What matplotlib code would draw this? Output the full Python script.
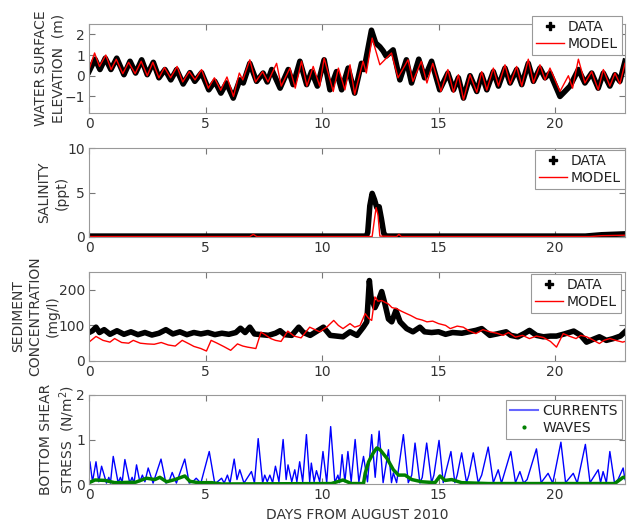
import numpy as np
import matplotlib
matplotlib.use("Agg")
import matplotlib.pyplot as plt
from matplotlib.lines import Line2D

plt.rcParams['font.family'] = ['DejaVu Sans']
plt.rcParams['font.size'] = 10

# water surface elevation (m): read at tidal peaks / troughs
wse_data_t = [0.0, 0.26, 0.47, 0.7, 0.94, 1.19, 1.5, 1.76, 2.0, 2.26, 2.5, 2.76, 3.0, 3.26, 3.51,
              3.76, 4.04, 4.33, 4.54, 4.83, 5.14, 5.4, 5.66, 5.9, 6.19, 6.47, 6.62, 6.9, 7.19, 7.47,
              7.65, 7.84, 8.2, 8.55, 8.76, 9.05, 9.34, 9.55, 9.8, 10.09, 10.34, 10.62, 10.84, 11.12,
              11.4, 11.69, 11.8, 12.12, 12.3, 12.48, 12.62, 12.75, 13.05, 13.34, 13.62, 13.84, 14.15,
              14.4, 14.7, 15.05, 15.4, 15.64, 15.85, 16.07, 16.35, 16.64, 16.85, 17.07, 17.35, 17.57,
              17.85, 18.07, 18.35, 18.57, 18.85, 19.07, 19.35, 19.57, 19.78, 20.21, 20.42, 20.64, 21.0,
              21.28, 21.57, 21.85, 22.07, 22.35, 22.57, 22.78, 23.0]
wse_data = [0.2, 0.8, 0.3, 0.85, 0.3, 0.85, 0.05, 0.7, 0.13, 0.77, 0.05, 0.65, -0.1, 0.3, -0.2,
            0.3, -0.4, 0.15, -0.27, 0.15, -0.68, -0.27, -0.84, -0.35, -1.08, -0.2, -0.35, 0.6, -0.27, 0.13,
            -0.3, 0.3, -0.6, 0.3, -0.43, 0.7, -0.43, 0.2, -0.5, 0.77, -0.68, 0.2, -0.68, 0.37,
            -0.84, 0.6, 0.3, 2.2, 1.58, 1.4, 1.2, 0.95, 1.25, -0.2, 0.77, -0.35, 0.8,
            -0.1, 0.7, -0.68, 0.13, -0.68, -0.1, -1.08, 0.0, -0.76, 0.05, -0.68, 0.2, -0.5,
            0.37, -0.35, 0.3, -0.43, 0.6, -0.27, 0.37, -0.1, 0.13, -1.0, -0.76, -0.5, 0.3,
            -0.35, 0.13, -0.6, 0.13, -0.5, 0.05, -0.27, 0.7]
wse_model_t = [0.0, 0.24, 0.45, 0.72, 0.95, 1.17, 1.45, 1.7, 1.98, 2.24, 2.5, 2.74, 3.0, 3.24, 3.5,
               3.78, 4.02, 4.3, 4.55, 4.83, 5.12, 5.38, 5.65, 5.92, 6.2, 6.45, 6.6, 6.9, 7.15, 7.45,
               7.68, 8.05, 8.25, 8.62, 8.85, 9.12, 9.35, 9.62, 9.9, 10.09, 10.48, 10.7, 10.98, 11.2,
               11.4, 11.76, 11.9, 12.15, 12.48, 12.98, 13.26, 13.69, 13.9, 14.26, 14.5, 14.75, 15.1,
               15.4, 15.64, 15.85, 16.07, 16.35, 16.64, 16.85, 17.07, 17.35, 17.57, 17.85, 18.07,
               18.35, 18.57, 18.85, 19.07, 19.35, 19.57, 19.78, 20.21, 20.57, 20.75, 21.0, 21.28,
               21.57, 21.85, 22.07, 22.35, 22.57, 22.78, 23.0]
wse_model = [0.3, 1.1, 0.45, 1.0, 0.3, 0.8, 0.1, 0.65, 0.1, 0.7, 0.0, 0.65, -0.1, 0.4, -0.1,
             0.45, -0.3, 0.2, -0.2, 0.3, -0.6, -0.1, -0.7, -0.06, -1.0, 0.13, -0.2, 0.77, -0.3, 0.2,
             -0.3, 0.6, -0.5, 0.37, -0.6, 0.7, -0.5, 0.45, -0.5, 0.85, -0.76, 0.37, -0.68, 0.53,
             -0.9, 0.7, 0.13, 1.82, 0.53, 1.1, -0.1, 0.77, -0.27, 0.7, -0.35, 0.6, -0.76,
             0.3, -0.8, 0.05, -1.16, 0.05, -0.8, 0.2, -0.7, 0.37, -0.5, 0.53, -0.4,
             0.45, -0.5, 0.8, -0.35, 0.53, -0.2, 0.37, -0.76, 0.0, -0.6, 0.8, -0.35,
             0.2, -0.68, 0.3, -0.5, 0.13, -0.4, 0.6]

# salinity (ppt)
sal_data_t = [0.0, 11.9, 11.96, 12.05, 12.15, 12.25, 12.35, 12.45, 12.55, 12.65, 12.75, 21.3, 22.0, 22.5, 23.0]
sal_data = [0.1, 0.1, 0.5, 3.5, 4.9, 4.2, 3.3, 3.4, 2.0, 0.4, 0.1, 0.1, 0.25, 0.3, 0.35]
sal_model_t = [0.0, 6.9, 7.05, 7.2, 12.15, 12.25, 12.32, 12.4, 12.48, 13.2, 13.3, 13.4, 21.5, 22.0, 23.0]
sal_model = [0.05, 0.05, 0.3, 0.05, 0.05, 2.0, 3.3, 2.5, 0.1, 0.05, 0.3, 0.05, 0.05, 0.15, 0.2]

# sediment concentration (mg/l)
ssc_data_t = [0.0, 0.15, 0.3, 0.45, 0.65, 0.9, 1.2, 1.5, 1.8, 2.1, 2.4, 2.7, 3.0, 3.3, 3.6, 3.9, 4.2,
              4.5, 4.8, 5.1, 5.4, 5.7, 6.0, 6.3, 6.5, 6.7, 6.9, 7.1, 7.4, 7.7, 8.0, 8.2, 8.4, 8.7,
              9.0, 9.2, 9.49, 10.06, 10.35, 10.9, 11.2, 11.5, 11.77, 11.92, 12.03, 12.1, 12.27,
              12.42, 12.56, 12.7, 12.85, 12.99, 13.17, 13.35, 13.63, 13.9, 14.2, 14.4, 14.7, 15.0,
              15.3, 15.6, 16.0, 16.3, 16.6, 16.85, 17.2, 17.5, 17.9, 18.1, 18.4, 18.7, 18.9, 19.2,
              19.5, 19.8, 20.06, 20.4, 20.8, 21.1, 21.35, 21.6, 21.9, 22.2, 22.5, 22.8, 23.0]
ssc_data = [80, 85, 95, 80, 88, 75, 85, 75, 82, 74, 80, 73, 78, 88, 76, 82, 74,
            80, 76, 80, 74, 78, 75, 80, 92, 80, 95, 76, 74, 72, 78, 85, 74, 72,
            95, 80, 72, 95, 72, 68, 82, 72, 95, 110, 226, 180, 150,
            170, 195, 160, 118, 110, 142, 110, 91, 82, 95, 82, 80, 82,
            75, 80, 78, 82, 86, 91, 72, 76, 82, 72, 68, 78, 86, 72,
            68, 70, 70, 76, 84, 72, 53, 60, 68, 58, 63, 70, 82]
ssc_model_t = [0.0, 0.3, 0.6, 0.9, 1.1, 1.4, 1.7, 1.9, 2.2, 2.5, 2.8, 3.1, 3.4, 3.7, 4.0, 4.3, 4.5,
               4.8, 5.04, 5.24, 5.5, 5.8, 6.08, 6.37, 6.6, 6.8, 7.16, 7.38, 7.6, 7.8, 8.0, 8.24,
               8.53, 8.8, 9.1, 9.47, 9.7, 9.9, 10.2, 10.5, 10.7, 10.9, 11.2, 11.4, 11.63, 11.85,
               12.0, 12.13, 12.27, 12.4, 12.56, 12.7, 12.85, 13.0, 13.2, 13.4, 13.63, 13.8, 14.06,
               14.3, 14.5, 14.75, 15.0, 15.3, 15.5, 15.8, 16.06, 16.3, 16.6, 16.9, 17.2, 17.5,
               17.77, 18.0, 18.3, 18.6, 18.9, 19.2, 19.5, 19.8, 20.06, 20.35, 20.6, 20.9, 21.1,
               21.35, 21.6, 21.9, 22.1, 22.35, 22.6, 22.9, 23.0]
ssc_model = [53, 69, 58, 53, 63, 52, 50, 58, 50, 48, 47, 52, 45, 42, 58, 48, 41,
             35, 28, 58, 50, 40, 30, 48, 42, 39, 35, 81, 72, 63, 58, 55,
             84, 70, 65, 95, 88, 82, 95, 114, 100, 91, 105, 95, 100, 133,
             120, 114, 180, 168, 170, 165, 160, 150, 147, 140, 133, 128, 119,
             115, 110, 112, 105, 100, 91, 98, 95, 85, 77, 88, 82, 78,
             72, 80, 67, 72, 63, 70, 66, 55, 39, 77, 70, 63, 72,
             68, 60, 49, 58, 63, 58, 53, 55]

# bottom shear stress (N/m^2)
cur_t = [0.0, 0.04, 0.15, 0.3, 0.42, 0.54, 0.75, 0.85, 0.92, 1.04, 1.25, 1.35, 1.42, 1.54, 1.75,
         1.85, 1.93, 2.04, 2.18, 2.29, 2.4, 2.54, 2.75, 3.09, 3.3, 3.45, 3.57, 3.75, 4.11, 4.3,
         4.45, 4.6, 4.8, 5.16, 5.4, 5.69, 5.8, 5.94, 6.05, 6.23, 6.35, 6.47, 6.65, 6.97, 7.1,
         7.26, 7.45, 7.54, 7.65, 7.76, 7.88, 8.0, 8.15, 8.33, 8.46, 8.54, 8.7, 8.83, 8.92, 9.04,
         9.17, 9.33, 9.47, 9.54, 9.66, 9.76, 9.9, 10.04, 10.2, 10.37, 10.55, 10.68, 10.75, 10.86,
         10.98, 11.11, 11.25, 11.42, 11.58, 11.78, 11.95, 12.13, 12.28, 12.45, 12.62, 12.85,
         12.98, 13.06, 13.2, 13.49, 13.7, 13.85, 13.99, 14.2, 14.3, 14.49, 14.7, 14.8, 15.02,
         15.2, 15.3, 15.53, 15.7, 15.8, 15.99, 16.2, 16.3, 16.49, 16.7, 16.85, 17.13, 17.35,
         17.56, 17.7, 18.1, 18.3, 18.49, 18.65, 18.8, 19.2, 19.4, 19.7, 19.9, 20.25, 20.45,
         20.78, 20.95, 21.3, 21.5, 21.85, 21.95, 22.06, 22.2, 22.35, 22.55, 22.7, 22.92, 23.0]
currents = [0.25, 0.5, 0.05, 0.5, 0.05, 0.4, 0.02, 0.15, 0.02, 0.62, 0.03, 0.15, 0.03, 0.55, 0.02,
            0.15, 0.02, 0.43, 0.05, 0.2, 0.05, 0.36, 0.02, 0.56, 0.02, 0.08, 0.26, 0.02, 0.56, 0.02,
            0.05, 0.13, 0.02, 0.73, 0.0, 0.13, 0.02, 0.2, 0.02, 0.56, 0.1, 0.32, 0.02, 0.28, 0.02,
            1.02, 0.02, 0.2, 0.05, 0.2, 0.03, 0.4, 0.05, 1.0, 0.1, 0.43, 0.05, 0.32, 0.05, 0.5,
            0.05, 1.11, 0.05, 0.47, 0.05, 0.3, 0.05, 0.73, 0.03, 1.29, 0.03, 0.2, 0.03, 0.66,
            0.05, 0.73, 0.05, 1.0, 0.05, 0.62, 0.05, 1.11, 0.15, 1.19, 0.03, 0.77,
            0.03, 0.25, 0.03, 1.11, 0.03, 0.2, 0.92, 0.02, 0.15, 0.92, 0.03, 0.2, 0.98,
            0.03, 0.25, 0.73, 0.03, 0.2, 0.7, 0.03, 0.2, 0.7, 0.03, 0.2, 0.83, 0.03,
            0.32, 0.02, 0.73, 0.03, 0.28, 0.02, 0.1, 0.79, 0.03, 0.24, 0.02, 0.94, 0.03,
            0.24, 0.02, 0.89, 0.03, 0.32, 0.03, 0.28, 0.03, 0.73, 0.02, 0.1, 0.36, 0.1]
wav_t = [0.0, 0.26, 0.69, 1.1, 2.0, 2.47, 2.83, 3.04, 3.33, 3.69, 4.11, 4.33, 4.69, 5.26, 5.7, 10.4,
         10.9, 11.26, 11.78, 11.85, 12.0, 12.2, 12.35, 12.49, 12.78, 13.06, 13.28, 13.56, 13.85,
         14.28, 14.85, 15.06, 15.28, 15.56, 15.99, 17.13, 22.56, 22.92, 23.0]
waves = [0.03, 0.09, 0.08, 0.03, 0.04, 0.13, 0.1, 0.15, 0.05, 0.1, 0.18, 0.06, 0.03, 0.03, 0.0, 0.01,
         0.09, 0.01, 0.01, 0.24, 0.5, 0.7, 0.81, 0.77, 0.58, 0.32, 0.2, 0.2, 0.1,
         0.05, 0.03, 0.18, 0.08, 0.1, 0.03, 0.01, 0.01, 0.15, 0.15]

W, H = 630, 525
fig = plt.figure(figsize=(6.3, 5.25), dpi=100)


def make_axes(top, bottom):
    ax = fig.add_axes([89 / W, 1 - bottom / H, 536 / W, (bottom - top) / H])
    ax.set_xlim(0, 23)
    ax.set_xticks([0, 5, 10, 15, 20])
    ax.tick_params(direction='in', top=True, right=True, length=4, color='#777777',
                   labelcolor='#333333', labelsize=10, pad=3)
    for s in ax.spines.values():
        s.set_color('#999999')
    return ax


def add_legend(ax, handles, labels, x1, y1):
    leg = ax.legend(handles, labels, loc='upper right', bbox_to_anchor=(x1 / W, 1 - y1 / H),
                    bbox_transform=fig.transFigure, fancybox=False, framealpha=1,
                    edgecolor='#999999', fontsize=10, handlelength=2.0, handletextpad=0.3,
                    borderpad=0.3, labelspacing=0.2, borderaxespad=0)
    leg.get_frame().set_linewidth(0.8)
    for t in leg.get_texts():
        t.set_color('#222222')


def set_ylab(ax, text):
    ax.set_ylabel(text, color='#333333', labelpad=-1, linespacing=1.3)


data_handle = Line2D([], [], color='k', marker='P', ls='none', markersize=6)
model_handle = Line2D([], [], color='red', lw=1)

ax1 = make_axes(24, 113)
ax1.plot(wse_data_t, wse_data, color='k', lw=4, solid_joinstyle='round')
ax1.plot(wse_model_t, wse_model, color='red', lw=1)
ax1.set_ylim(-1.8, 2.5)
ax1.set_yticks([-1, 0, 1, 2])
set_ylab(ax1, 'WATER SURFACE\nELEVATION  (m)')
add_legend(ax1, [data_handle, model_handle], ['DATA', 'MODEL'], 622, 16)

ax2 = make_axes(148, 237)
ax2.plot(sal_data_t, sal_data, color='k', lw=4, solid_joinstyle='round')
ax2.plot(sal_model_t, sal_model, color='red', lw=1)
ax2.set_ylim(0, 10)
ax2.set_yticks([0, 5, 10])
set_ylab(ax2, 'SALINITY\n(ppt)')
add_legend(ax2, [data_handle, model_handle], ['DATA', 'MODEL'], 625, 150)

ax3 = make_axes(272, 361)
ax3.plot(ssc_data_t, ssc_data, color='k', lw=4, solid_joinstyle='round')
ax3.plot(ssc_model_t, ssc_model, color='red', lw=1)
ax3.set_ylim(0, 250)
ax3.set_yticks([0, 100, 200])
set_ylab(ax3, 'SEDIMENT\nCONCENTRATION\n(mg/l)')
add_legend(ax3, [data_handle, model_handle], ['DATA', 'MODEL'], 621, 274)

ax4 = make_axes(395, 484)
ax4.plot(cur_t, currents, color='blue', lw=1)
ax4.plot(wav_t, waves, color='green', lw=2.5)
ax4.set_ylim(0, 2)
ax4.set_yticks([0, 1, 2])
set_ylab(ax4, 'BOTTOM SHEAR\nSTRESS  (N/m$^2$)')
ax4.set_xlabel('DAYS FROM AUGUST 2010', color='#333333')
cur_handle = Line2D([], [], color='#6666ff', lw=1.5)
wav_handle = Line2D([], [], color='green', marker='.', ls='none', markersize=4)
add_legend(ax4, [cur_handle, wav_handle], ['CURRENTS', 'WAVES'], 622, 400)

fig.align_ylabels([ax1, ax2, ax3, ax4])
fig.savefig('out.png', dpi=100)
